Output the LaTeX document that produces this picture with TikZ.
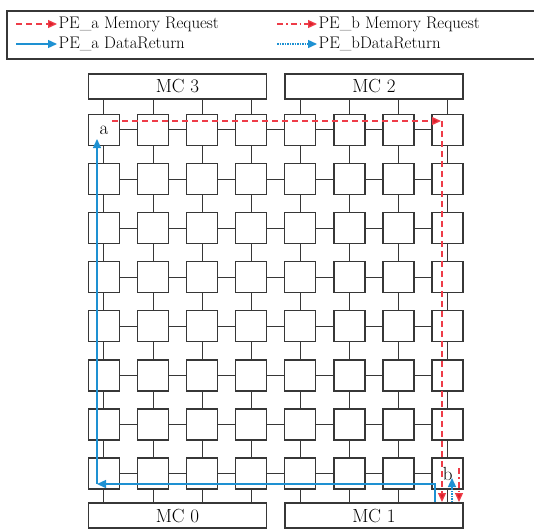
\documentclass[tikz,border=0pt]{standalone}
\usepackage{tikz}
\usetikzlibrary{arrows.meta}

\definecolor{reqred}{RGB}{238,60,72}
\definecolor{tipred}{RGB}{220,30,40}
\definecolor{retblue}{RGB}{30,145,210}
\definecolor{edgegray}{RGB}{55,55,55}

\tikzset{
  pe/.style={draw=edgegray, line width=1.3pt, minimum size=31pt, inner sep=0pt},
  mc/.style={draw=edgegray, line width=1.3pt, minimum width=178pt, minimum height=25pt, inner sep=0pt,
    font=\fontsize{19}{19}\selectfont},
  link/.style={edgegray, line width=0.9pt},
  redtip/.style={-{Triangle[length=9pt,width=8pt,fill=tipred]}},
  bluetip/.style={-{Triangle[length=9pt,width=8pt,fill=retblue]}},
  reqa/.style={redtip, reqred, line width=1.3pt, dash pattern=on 6pt off 4pt},
  reqb/.style={redtip, reqred, line width=1.3pt, dash pattern=on 6pt off 3pt on 1.5pt off 3pt},
  reta/.style={bluetip, retblue, line width=1.4pt},
  retb/.style={bluetip, retblue, line width=1.4pt, dash pattern=on 1.5pt off 1pt},
  legtext/.style={anchor=west, inner sep=1pt, text=black, font=\fontsize{16.8}{16.8}\selectfont},
  pelabel/.style={inner sep=0pt, font=\fontsize{19}{19}\selectfont}
}

\begin{document}
\begin{tikzpicture}[x=1pt, y=-1pt]
\useasboundingbox (0, 0) rectangle (534, 528);

% legend
\draw [edgegray, line width=1.3pt] (7, 11) rectangle (537, 59);
\coordinate (l1s) at (16, 24); \coordinate (l1e) at (57, 24);
\coordinate (l2s) at (277, 24); \coordinate (l2e) at (317, 24);
\coordinate (l3s) at (16, 44); \coordinate (l3e) at (57, 44);
\coordinate (l4s) at (277, 44); \coordinate (l4e) at (317, 44);
\draw [reqa] (l1s) -- (l1e) node [legtext] (t1) {PE\_a Memory Request};
\draw [reqb] (l2s) -- (l2e) node [legtext] (t2) {PE\_b Memory Request};
\draw [reta] (l3s) -- (l3e) node [legtext] (t3) {PE\_a DataReturn};
\draw [retb] (l4s) -- (l4e) node [legtext] (t4) {PE\_bDataReturn};

% memory controllers
\node [mc] (mc3) at (177.4, 86.5) {MC 3};
\node [mc] (mc2) at (373.9, 86.5) {MC 2};
\node [mc] (mc0) at (177.4, 515.5) {MC 0};
\node [mc] (mc1) at (373.9, 515.5) {MC 1};

% PE grid
\foreach \row in {0,...,7}
  \foreach \col in {0,...,7}
    \node [pe] (n\row\col) at ({103.9+49.1*\col}, {129.9+49.1*\row}) {};
\node [pelabel] (la) at (n00) {a};
\node [pelabel] (lb) at (n77) {b};

\foreach \row in {0,...,7}
  \foreach \col in {0,...,6} {
    \pgfmathtruncatemacro{\nxt}{\col+1}
    \draw [link] (n\row\col.east) -- (n\row\nxt.west);
  }
\foreach \row in {0,...,6}
  \foreach \col in {0,...,7} {
    \pgfmathtruncatemacro{\nxt}{\row+1}
    \draw [link] (n\row\col.south) -- (n\nxt\col.north);
  }
\foreach \col in {0,...,3} {
  \draw [link] (n0\col.north) -- (n0\col.north |- mc3.south);
  \draw [link] (n7\col.south) -- (n7\col.south |- mc0.north);
}
\foreach \col in {4,...,7} {
  \draw [link] (n0\col.north) -- (n0\col.north |- mc2.south);
  \draw [link] (n7\col.south) -- (n7\col.south |- mc1.north);
}

% request and return paths
\coordinate (asrc) at (112, 121);
\coordinate (acorner) at (442, 121);
\coordinate (adst) at (442, 502);
\coordinate (bsrc) at (459, 468);
\coordinate (bdst) at (459, 502);
\coordinate (bret) at (452, 502);
\coordinate (btgt) at (452, 478);
\coordinate (aret) at (435, 502);
\coordinate (aturn) at (435, 484);
\coordinate (aleft) at (97, 484);
\coordinate (atgt) at (97, 139);
\draw [reqa] (asrc) -- ([xshift=-1pt]acorner);
\draw [reqa] (acorner) -- (adst);
\draw [reqb] (bsrc) -- (bdst);
\draw [retb] (bret) -- (btgt);
\draw [reta] (aret) -- (aturn) -- (aleft);
\draw [reta] (aleft) -- (atgt);
\end{tikzpicture}
\end{document}
